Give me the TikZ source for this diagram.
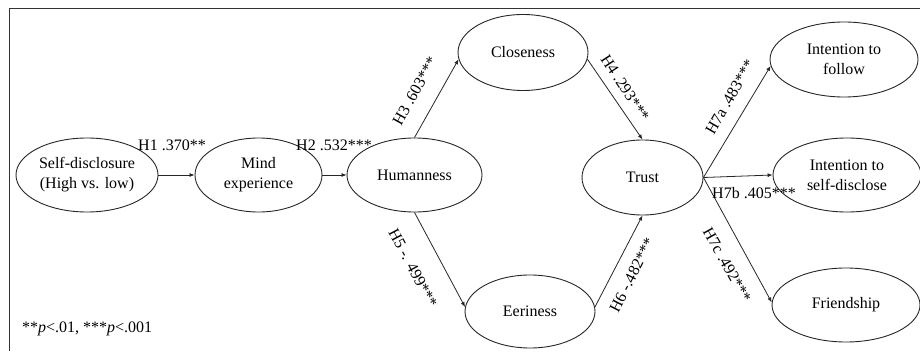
\documentclass[tikz,border=0pt]{standalone}
\usepackage{fontspec}
\setmainfont{Liberation Serif}
\usetikzlibrary{shapes.geometric,arrows.meta}

\begin{document}
\begin{tikzpicture}[x=1pt,y=1pt,
  every node/.style={font=\fontsize{16}{20}\selectfont},
  var/.style={ellipse,draw=black!85,line width=0.9pt,inner sep=0pt,align=center},
  link/.style={draw=black!85,line width=0.8pt,-{Latex[length=5pt,width=4pt]}},
  lbl/.style={inner sep=1pt}]

\useasboundingbox (0,0) rectangle (920,351);

% frame
\draw[line width=1pt, black!80] (9,0) -- (9,342) -- (921,342);

% constructs
\node[var, minimum width=142, minimum height=74] (sd) at (87,176) {Self-disclosure\\(High vs. low)};
\node[var, minimum width=127, minimum height=74] (mind) at (258.5,176) {Mind\\experience};
\node[var, minimum width=135, minimum height=74] (hum) at (414.5,176) {Humanness};
\node[var, minimum width=130, minimum height=76] (close) at (523,298.5) {Closeness};
\node[var, minimum width=130, minimum height=73] (eer) at (530,39.5) {Eeriness};
\node[var, minimum width=121, minimum height=75] (trust) at (642.5,173.5) {Trust};
\node[var, minimum width=148, minimum height=75] (follow) at (844,291.5) {Intention to\\follow};
\node[var, minimum width=148, minimum height=74] (self) at (847,176) {Intention to\\self-disclose};
\node[var, minimum width=148, minimum height=74] (friend) at (846,46) {Friendship};

% paths
\draw[link] (sd.east) -- (mind.west);
\draw[link] (mind.east) -- (hum.west);
\draw[link] (hum.north) -- (close.186);
\draw[link] (hum.south) -- (eer.176);
\draw[link] (close.354) -- (trust.north);
\draw[link] (eer.4) -- (trust.south);
\draw[link] (trust.east) -- (follow.185);
\draw[link] (trust.east) -- (self.west);
\draw[link] (trust.east) -- (friend.178);

% coefficients
\node[lbl] (hone) at (172,206) {H1 .370**};
\node[lbl] (htwo) at (334,206) {H2 .532***};
\node[lbl, rotate=61] (hthree) at (415,260) {H3 .603***};
\node[lbl, rotate=-57] (hfour) at (625,263) {H4 .293***};
\node[lbl, rotate=-62] (hfive) at (413,83) {H5 -. 499***};
\node[lbl, rotate=63] (hsix) at (632,76) {H6 -.482***};
\node[lbl, rotate=60] (hsevena) at (730,254) {H7a .483***};
\node[lbl] (hsevenb) at (754,158) {H7b .405***};
\node[lbl, rotate=-61] (hsevenc) at (727,86) {H7c .492***};

% note
\node[lbl, anchor=west] (note) at (21,22) {**\textit{p}<.01, ***\textit{p}<.001};

\end{tikzpicture}
\end{document}
